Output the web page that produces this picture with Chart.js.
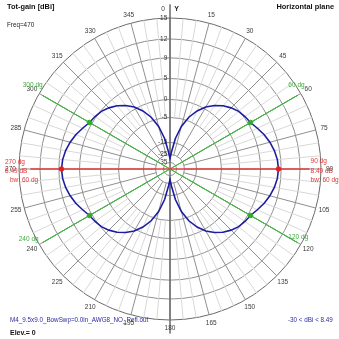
<!DOCTYPE html>
<html><head><meta charset="utf-8">
<script src="https://cdn.jsdelivr.net/npm/chart.js@4/dist/chart.umd.min.js"></script>
<style>
html,body{margin:0;padding:0;background:#fff;}
#c{display:block;}
</style></head><body>
<canvas id="c" width="339" height="339"></canvas>
<script>
// ---- data ----
const angles = [0,5,10,15,20,25,30,35,40,45,50,55,60,65,70,75,80,85,90,95,100,105,110,115,120,125,130,135,140,145,150,155,160,165,170,175,180,185,190,195,200,205,210,215,220,225,230,235,240,245,250,255,260,265,270,275,280,285,290,295,300,305,310,315,320,325,330,335,340,345,350,355];
const gainDb = [
-30,-22.9,-13.2,-8.0,-4.0,-1.5,0.5,1.9,3.1,4.05,4.8,5.2,5.49,6.15,6.9,7.5,8.0,8.35,
8.49,8.35,8.0,7.5,6.9,6.15,5.49,5.2,4.8,4.05,3.1,1.9,0.5,-1.5,-4.0,-8.0,-13.2,-22.9,
-30,-22.9,-13.2,-8.0,-4.0,-1.5,0.5,1.9,3.1,4.05,4.8,5.2,5.49,6.15,6.9,7.5,8.0,8.35,
8.49,8.35,8.0,7.5,6.9,6.15,5.49,5.2,4.8,4.05,3.1,1.9,0.5,-1.5,-4.0,-8.0,-13.2,-22.9];
const angleTickLabels = ['0','15','30','45','60','75','90','105','120','135','150','165','180','195','210','225','240','255','270','285','300','315','330','345'];
const ringDb = [-35,-25,-15,-5,0,5,9,12,15];
const ringLabels = ['-35','-25','-15','-5','0','5','9','12','15'];
const maxDirs = [90,270];
const maxGain = 8.49;
const bwDirs = [60,120,240,300];
const bwGain = 5.49;
const beamwidth = 60;
const minGain = -30;
const freq = 470;
const elev = 0;

// ---- non-linear radial scale definition (fraction of outer radius for each ring) ----
const ringFrac = [0.043,0.096,0.1755,0.341,0.460,0.599,0.736,0.861,1];
const centerDb = -45;
function toR(db){
  db = Math.max(db, minGain);
  const xs = [centerDb].concat(ringDb), ys = [0].concat(ringFrac);
  for (let i=1;i<xs.length;i++){
    if (db <= xs[i]) return ys[i-1] + (db-xs[i-1])/(xs[i]-xs[i-1])*(ys[i]-ys[i-1]);
  }
  return 1;
}
const idxOf = a => angles.indexOf(a);
function sparse(dirs, val){ const arr = angles.map(()=>null); dirs.forEach(d=>{arr[idxOf(d)] = val;}); return arr; }

const FONT = '"Liberation Sans", Arial, sans-serif';
const TICK_SIZE = 6.5;
const mctx = document.createElement('canvas').getContext('2d');
function padLabel(t){
  mctx.font = TICK_SIZE + 'px ' + FONT;
  const w = mctx.measureText(t).width, sp = mctx.measureText(' ').width;
  return t + ' '.repeat(Math.max(0, Math.round((w + 5) / sp)));
}

const textPlugin = {
  id: 'texts',
  afterDraw(chart){
    const ctx = chart.ctx, s = chart.scales.r;
    ctx.save();
    // angle labels
    ctx.font = TICK_SIZE + 'px ' + FONT;
    ctx.fillStyle = '#3a3a3a';
    ctx.textAlign = 'center'; ctx.textBaseline = 'middle';
    angleTickLabels.forEach(lab => {
      const i = idxOf(Number(lab));
      const p = s.getPointPosition(i, s.drawingArea + 8.5);
      if (lab === '0') { ctx.fillText(lab, p.x - 7, p.y); }
      else ctx.fillText(lab, p.x, p.y);
    });
    const p0 = s.getPointPosition(0, s.drawingArea + 8.5);
    ctx.font = 'bold 7px ' + FONT; ctx.fillStyle = '#222';
    ctx.fillText('Y', p0.x + 6.5, p0.y);

    // headers
    ctx.textBaseline = 'middle';
    ctx.textAlign = 'left';
    ctx.font = 'bold 7.4px ' + FONT; ctx.fillStyle = '#111';
    ctx.fillText('Tot-gain [dBi]', 7, 7);
    ctx.textAlign = 'right';
    ctx.fillText('Horizontal plane', 334, 6.5);
    ctx.textAlign = 'left';
    ctx.font = '6.3px ' + FONT; ctx.fillStyle = '#222';
    ctx.fillText('Freq=' + freq, 7, 25);
    ctx.fillStyle = '#2a2aa8';
    ctx.fillText('M4_9.5x9.0_BowSwp=0.0in_AWG8_NO_Refl.out', 10, 320.5);
    ctx.fillText(minGain + ' < dBi < ' + maxGain, 288, 320);
    ctx.font = 'bold 7px ' + FONT; ctx.fillStyle = '#111';
    ctx.fillText('Elev.= ' + elev, 10, 333);

    // max-gain (red) labels
    ctx.font = '6.5px ' + FONT; ctx.fillStyle = '#e03434';
    const pr = s.getPointPosition(idxOf(maxDirs[0]), s.drawingArea * 0.924);
    ctx.textAlign = 'left';
    ctx.fillText(maxDirs[0] + ' dg', pr.x + 1, s.yCenter - 7.5);
    ctx.fillText(maxGain + ' dB', pr.x + 1, s.yCenter + 2);
    ctx.fillText('bw: ' + beamwidth + ' dg', pr.x + 1, s.yCenter + 11.5);
    ctx.fillText(maxDirs[1] + ' dg', 5, s.yCenter - 6.5);
    ctx.fillText(maxGain + ' dB', 5, s.yCenter + 2.5);
    ctx.fillText('bw: ' + beamwidth + ' dg', 10, s.yCenter + 11.5);

    // beamwidth (green) labels
    ctx.fillStyle = '#3cae3c';
    bwDirs.forEach(d => {
      const p = s.getPointPosition(idxOf(d), s.drawingArea * 0.974);
      const dy = (d === 60 || d === 300) ? -10 : (d === 120 ? -5 : -3);
      if (d < 180) { ctx.textAlign = 'left'; ctx.fillText(d + ' dg', p.x - 9, p.y + dy); }
      else { ctx.textAlign = 'right'; ctx.fillText(d + ' dg', p.x + (d === 240 ? -4 : 0), p.y + dy); }
    });
    ctx.restore();
  }
};

new Chart(document.getElementById('c'), {
  type: 'radar',
  data: {
    labels: angles.map(String),
    datasets: [
      { label: 'max', data: sparse(maxDirs, toR(maxGain)), showLine: false, pointRadius: 2.3,
        pointBackgroundColor: '#e02020', pointBorderColor: '#e02020', order: 0, clip: false },
      { label: 'bw', data: sparse(bwDirs, toR(bwGain)), showLine: false, pointRadius: 2.3,
        pointBackgroundColor: '#2eaa2e', pointBorderColor: '#2eaa2e', order: 0, clip: false },
      { label: 'Tot-gain', data: gainDb.map(toR), borderColor: '#1c1ca0', borderWidth: 1.6,
        pointRadius: 0, fill: false, order: 1, clip: false },
      { label: 'maxline', data: sparse(maxDirs, 0.924), borderColor: '#e03c3c', borderWidth: 1,
        pointRadius: 0, fill: false, spanGaps: true, order: 2, clip: false },
      { label: 'bwline1', data: sparse([bwDirs[0], bwDirs[2]], 0.974), borderColor: '#44b444', borderWidth: 1,
        pointRadius: 0, fill: false, spanGaps: true, order: 2, clip: false },
      { label: 'bwline2', data: sparse([bwDirs[1], bwDirs[3]], 0.974), borderColor: '#44b444', borderWidth: 1,
        pointRadius: 0, fill: false, spanGaps: true, order: 2, clip: false },
      { label: 'yaxis', data: sparse([0,180], 1.09), borderColor: '#6a6a6a', borderWidth: 1,
        pointRadius: 0, fill: false, spanGaps: true, order: 3, clip: false }
    ]
  },
  options: {
    responsive: false,
    animation: false,
    devicePixelRatio: 1,
    events: [],
    layout: { padding: { left: 15.25, right: 14.25, top: 14.75, bottom: 14.75 } },
    plugins: { legend: { display: false }, tooltip: { enabled: false } },
    scales: {
      r: {
        min: 0, max: 1,
        startAngle: 0,
        afterBuildTicks: sc => { sc.ticks = [{value: 0}].concat(ringFrac.map(v => ({value: v}))); },
        ticks: {
          display: true, showLabelBackdrop: false, backdropPadding: 0,
          font: { size: TICK_SIZE, family: FONT }, color: '#333',
          callback: (v, i) => i === 0 ? '' : padLabel(ringLabels[i - 1])
        },
        grid: { circular: true, lineWidth: 1, color: c => c.index === ringFrac.length ? '#6a6a6a' : '#8f8f8f' },
        angleLines: {
          lineWidth: 1,
          color: c => c.index % 3 === 0 ? '#8f8f8f' : '#d8d8d8',
          borderDash: c => c.index % 3 === 0 ? [0, 14.5, 400, 0] : [0, 51.5, 400, 0]
        },
        pointLabels: { display: false }
      }
    }
  },
  plugins: [textPlugin]
});
</script>
</body></html>
